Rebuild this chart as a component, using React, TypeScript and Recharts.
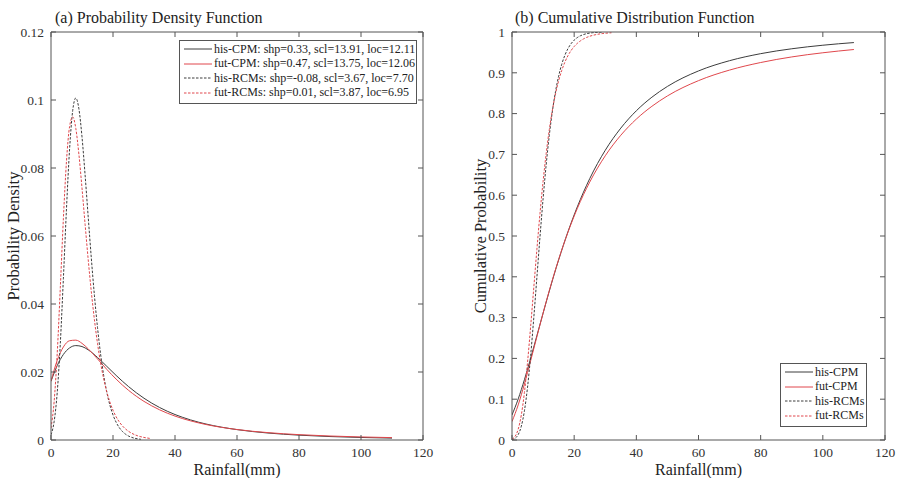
import React from 'react';
import { LineChart, Line, XAxis, YAxis } from 'recharts';

// rainfall grid for the CPM fits and the (narrower) RCM fits
const xCpm = [0, 2, 4, 6, 8, 10, 12, 15, 18, 21, 25, 30, 35, 40, 45, 50, 60, 70, 80, 90, 100, 110];
const xRcm = [0, 1, 2, 3, 4, 5, 6, 7, 8, 9, 10, 11, 12, 13, 14, 15, 16, 17, 18, 19, 20, 21, 22, 23, 24, 25, 26, 27, 28, 29, 30, 31, 32];

const hisCpmPdf = [0.01727, 0.02187, 0.02517, 0.02709, 0.02777, 0.02749, 0.02652, 0.02428, 0.02166, 0.019, 0.01572, 0.01228, 0.00957, 0.00749, 0.00591, 0.0047, 0.003053, 0.002052, 0.001423, 0.001015, 0.000742, 0.000554];
const futCpmPdf = [0.01731, 0.02341, 0.02738, 0.0292, 0.02937, 0.02842, 0.02681, 0.02385, 0.02077, 0.01791, 0.01462, 0.01136, 0.00889, 0.00703, 0.00563, 0.00455, 0.00308, 0.002166, 0.001574, 0.001176, 0.000899, 0.000702];
const hisRcmPdf = [0.00155, 0.00536, 0.01389, 0.02836, 0.0476, 0.06813, 0.08564, 0.09688, 0.10058, 0.0974, 0.08915, 0.07793, 0.06561, 0.05355, 0.04258, 0.03312, 0.02527, 0.01898, 0.01404, 0.01024, 0.00737, 0.00524, 0.00368, 0.00255, 0.00174, 0.00117, 0.00078, 0.00051, 0.00033, 0.00021, null, null, null];
const futRcmPdf = [0.00353, 0.01114, 0.02532, 0.04475, 0.06523, 0.08206, 0.09222, 0.09503, 0.09166, 0.08403, 0.0741, 0.06342, 0.05307, 0.04364, 0.03541, 0.02843, 0.02266, 0.01796, 0.01417, 0.01115, 0.00875, 0.00685, 0.00536, 0.00419, 0.00328, 0.00256, 0.002, 0.00156, 0.00122, 0.00096, 0.00075, 0.00059, 0.00046];

const hisCpmCdf = [0.0613, 0.1007, 0.1479, 0.2003, 0.2555, 0.3108, 0.365, 0.4414, 0.5103, 0.5712, 0.6405, 0.7101, 0.7644, 0.8069, 0.8402, 0.8666, 0.9046, 0.9297, 0.9469, 0.9589, 0.9676, 0.9741];
const futCpmCdf = [0.0451, 0.0861, 0.1374, 0.1943, 0.253, 0.311, 0.3663, 0.4423, 0.5092, 0.5673, 0.6321, 0.6966, 0.7469, 0.7865, 0.8179, 0.8433, 0.8808, 0.9067, 0.9252, 0.9389, 0.9491, 0.9571];
const hisRcmCdf = [0.00095, 0.00411, 0.01325, 0.0339, 0.0716, 0.1295, 0.2068, 0.2987, 0.398, 0.4975, 0.5912, 0.6749, 0.7466, 0.8061, 0.854, 0.8917, 0.9208, 0.9428, 0.9592, 0.9713, 0.98, 0.9863, 0.9907, 0.9937, 0.9959, 0.9973, 0.9983, 0.9989, 0.9993, 0.9996, null, null, null];
const futRcmCdf = [0.00219, 0.00901, 0.02669, 0.06144, 0.1166, 0.1907, 0.2784, 0.3726, 0.4664, 0.5546, 0.6337, 0.7025, 0.7607, 0.809, 0.8484, 0.8802, 0.9056, 0.9259, 0.9419, 0.9545, 0.9644, 0.9721, 0.9782, 0.983, 0.9867, 0.9896, 0.9918, 0.9936, 0.995, 0.9961, 0.9969, 0.9976, 0.9981];

const xTicks = [0, 20, 40, 60, 80, 100, 120];
const pdfTicks = [0, 0.02, 0.04, 0.06, 0.08, 0.1, 0.12];
const cdfTicks = [0, 0.1, 0.2, 0.3, 0.4, 0.5, 0.6, 0.7, 0.8, 0.9, 1];

const pdfLegend = [
  'his-CPM: shp=0.33, scl=13.91, loc=12.11',
  'fut-CPM: shp=0.47, scl=13.75, loc=12.06',
  'his-RCMs: shp=-0.08, scl=3.67, loc=7.70',
  'fut-RCMs: shp=0.01, scl=3.87, loc=6.95',
];
const cdfLegend = ['his-CPM', 'fut-CPM', 'his-RCMs', 'fut-RCMs'];

const BLACK = '#3c3c3c';
const RED = '#e0474c';
const AXIS = '#555';
const FONT = '"Liberation Serif", "Times New Roman", serif';
const DASH = '2.5 1.5';
const seriesStyle = [
  { color: BLACK, dash: undefined },
  { color: RED, dash: undefined },
  { color: BLACK, dash: DASH },
  { color: RED, dash: DASH },
];

const toRows = (xs: number[], a: (number | null)[], b: (number | null)[]) =>
  xs.map((x, i) => ({ x, a: a[i], b: b[i] }));

const tickStyle = { fill: '#333', fontSize: 13.5, fontFamily: FONT };

const Panel = ({ left, width, marginLeft, marginRight, yTicks, yMax, cpm, rcm, title, yLabel, legend }: any) => (
  <div style={{ position: 'absolute', left, top: 0, width, height: 478 }}>
    <LineChart width={width} height={478} margin={{ top: 31, right: marginRight, bottom: 0, left: marginLeft }}>
      <XAxis xAxisId="b" dataKey="x" type="number" domain={[0, 120]} ticks={xTicks} allowDataOverflow
        height={38} tickSize={-5} tickMargin={12} stroke={AXIS} tick={tickStyle} />
      <XAxis xAxisId="t" orientation="top" dataKey="x" type="number" domain={[0, 120]} ticks={xTicks} allowDataOverflow
        height={1} tickSize={-5} stroke={AXIS} tickFormatter={() => ''} />
      <YAxis yAxisId="l" type="number" domain={[0, yMax]} ticks={yTicks} allowDataOverflow width={40}
        tickSize={-5} tickMargin={12} stroke={AXIS} tick={tickStyle} tickFormatter={(v: number) => String(v)} />
      <YAxis yAxisId="r" orientation="right" type="number" domain={[0, yMax]} ticks={yTicks} allowDataOverflow width={1}
        tickSize={-5} stroke={AXIS} tickFormatter={() => ''} />
      <Line data={cpm} dataKey="a" xAxisId="b" yAxisId="l" type="monotone" stroke={BLACK} strokeWidth={1} dot={false} isAnimationActive={false} />
      <Line data={cpm} dataKey="b" xAxisId="b" yAxisId="l" type="monotone" stroke={RED} strokeWidth={1} dot={false} isAnimationActive={false} />
      <Line data={rcm} dataKey="a" xAxisId="b" yAxisId="l" type="monotone" stroke={BLACK} strokeWidth={1} strokeDasharray={DASH} dot={false} isAnimationActive={false} />
      <Line data={rcm} dataKey="b" xAxisId="b" yAxisId="l" type="monotone" stroke={RED} strokeWidth={1} strokeDasharray={DASH} dot={false} isAnimationActive={false} />
    </LineChart>
    <div style={{ position: 'absolute', left: title.x, top: 18, transform: 'translateY(-50%)', fontFamily: FONT, fontSize: 16, color: '#222', whiteSpace: 'nowrap' }}>
      {title.text}
    </div>
    <div style={{ position: 'absolute', left: yLabel.x, top: 236, fontFamily: FONT, fontSize: 16.5, color: '#222', whiteSpace: 'nowrap',
      transform: 'translate(-50%, -50%) rotate(-90deg)' }}>
      {yLabel.text}
    </div>
    <div style={{ position: 'absolute', left: marginLeft + 40, width: width - marginLeft - 41 - marginRight, top: 470, transform: 'translateY(-50%)',
      textAlign: 'center', fontFamily: FONT, fontSize: 16, color: '#222' }}>
      Rainfall(mm)
    </div>
    <div style={{ position: 'absolute', left: legend.x, top: legend.y, width: legend.w, height: legend.h, boxSizing: 'border-box',
      border: `1px solid ${AXIS}`, background: '#fff', fontFamily: FONT, fontSize: 12, color: '#222', paddingTop: 1 }}>
      {legend.items.map((label: string, i: number) => (
        <div key={label} style={{ display: 'flex', alignItems: 'center', height: legend.row, whiteSpace: 'nowrap' }}>
          <svg width={legend.line + 2} height={6} style={{ marginLeft: 3, marginRight: 1, flexShrink: 0 }}>
            <line x1={1} y1={3} x2={legend.line + 1} y2={3} stroke={seriesStyle[i].color} strokeWidth={1} strokeDasharray={seriesStyle[i].dash} />
          </svg>
          <span>{label}</span>
        </div>
      ))}
    </div>
  </div>
);

export default function App() {
  const pdfCpm = toRows(xCpm, hisCpmPdf, futCpmPdf);
  const pdfRcm = toRows(xRcm, hisRcmPdf, futRcmPdf);
  const cdfCpm = toRows(xCpm, hisCpmCdf, futCpmCdf);
  const cdfRcm = toRows(xRcm, hisRcmCdf, futRcmCdf);
  return (
    <div style={{ position: 'absolute', left: 0, top: 0, width: 898, height: 478, background: '#fff' }}>
      <Panel left={0} width={450} marginLeft={11} marginRight={26} yTicks={pdfTicks} yMax={0.12}
        cpm={pdfCpm} rcm={pdfRcm}
        title={{ x: 55, text: '(a) Probability Density Function' }}
        yLabel={{ x: 14, text: 'Probability Density' }}
        legend={{ x: 179, y: 40, w: 238, h: 64, row: 14.5, line: 28, items: pdfLegend }} />
      <Panel left={449} width={449} marginLeft={23} marginRight={12} yTicks={cdfTicks} yMax={1}
        cpm={cdfCpm} rcm={cdfRcm}
        title={{ x: 66, text: '(b) Cumulative Distribution Function' }}
        yLabel={{ x: 32, text: 'Cumulative Probability' }}
        legend={{ x: 331, y: 363, w: 87, h: 64, row: 14.5, line: 28, items: cdfLegend }} />
    </div>
  );
}
